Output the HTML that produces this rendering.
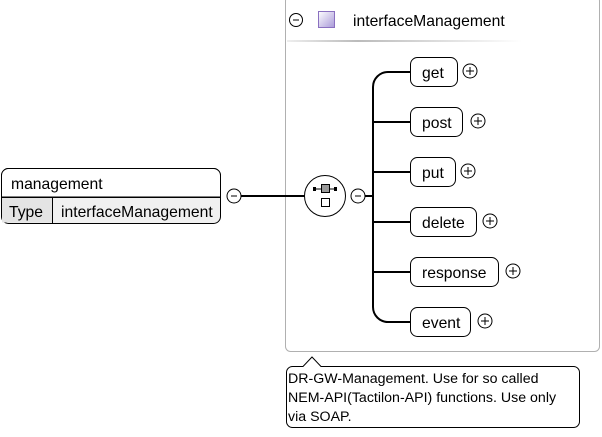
<!DOCTYPE html>
<html><head><style>
body{margin:0;background:#fff;}
svg text{font-family:"Liberation Sans",Arial,sans-serif;}
</style></head><body>
<svg width="602" height="432" viewBox="0 0 602 432" xmlns="http://www.w3.org/2000/svg">
<defs>
<linearGradient id="pg" x1="0" y1="0" x2="1" y2="1"><stop offset="0" stop-color="#fff"/><stop offset="1" stop-color="#a898d8"/></linearGradient>
<linearGradient id="hl" x1="0" x2="1"><stop offset="0" stop-color="#eee"/><stop offset="0.3" stop-color="#bbb"/><stop offset="1" stop-color="#fff"/></linearGradient>
</defs>
<rect x="285.5" y="-4" width="314" height="355.5" rx="5" fill="#fff" stroke="#b0b0b0" stroke-width="1"/>
<circle cx="296" cy="20" r="6.5" fill="#fff" stroke="#000"/><line x1="293" y1="20" x2="299" y2="20" stroke="#000"/>
<rect x="318.5" y="11.5" width="16" height="16" fill="url(#pg)" stroke="#8a70c0"/>
<text x="353" y="26" font-size="15.7">interfaceManagement</text>
<rect x="287" y="40" width="235" height="2" fill="url(#hl)"/>
<!-- management -->
<rect x="1.5" y="168.5" width="219" height="55" rx="7" fill="#f0f0f0" stroke="#000"/>
<path d="M1.5 197 V175.5 a7 7 0 0 1 7 -7 H213.5 a7 7 0 0 1 7 7 V197 Z" fill="#fff" stroke="#000"/>
<rect x="2" y="197.5" width="50" height="25" fill="#e4e4e4"/>
<line x1="52.5" y1="197" x2="52.5" y2="223" stroke="#000"/>
<line x1="1.5" y1="197.5" x2="220.5" y2="197.5" stroke="#000"/>
<text x="11" y="189" font-size="15.7">management</text>
<text x="9" y="217" font-size="15.7">Type</text>
<text x="61" y="217" font-size="15.7">interfaceManagement</text>
<circle cx="234" cy="196" r="7" fill="#fff" stroke="#000"/><line x1="231" y1="196" x2="237" y2="196" stroke="#000"/>
<line x1="241" y1="196" x2="305" y2="196" stroke="#000" stroke-width="2"/>
<circle cx="325" cy="196" r="20.5" fill="#fff" stroke="#000"/>
<line x1="314" y1="189" x2="336" y2="189" stroke="#000"/>
<rect x="313" y="187" width="3" height="4" fill="#000"/><rect x="334" y="187" width="3" height="4" fill="#000"/>
<rect x="321.5" y="184.5" width="8" height="8" fill="#999" stroke="#000"/>
<rect x="321.5" y="198.5" width="8" height="8" fill="#fff" stroke="#000"/>
<circle cx="358" cy="196" r="7" fill="#fff" stroke="#000"/><line x1="355" y1="196" x2="361" y2="196" stroke="#000"/>
<line x1="365" y1="196" x2="373" y2="196" stroke="#000" stroke-width="2"/>
<path d="M410 72 H388 a15 15 0 0 0 -15 15 V307 a15 15 0 0 0 15 15 H410" fill="none" stroke="#000" stroke-width="2"/>
<g stroke="#000" stroke-width="2">
<line x1="373" y1="122" x2="410" y2="122"/><line x1="373" y1="172" x2="410" y2="172"/>
<line x1="373" y1="222" x2="410" y2="222"/><line x1="373" y1="272" x2="410" y2="272"/>
</g>
<g font-size="15.7" fill="#000">
<rect x="410.5" y="57.5" width="47" height="29" rx="7" fill="#fff" stroke="#000"/><text x="422" y="78">get</text>
<rect x="410.5" y="107.5" width="52" height="29" rx="7" fill="#fff" stroke="#000"/><text x="422" y="128">post</text>
<rect x="410.5" y="157.5" width="45" height="29" rx="7" fill="#fff" stroke="#000"/><text x="422" y="178">put</text>
<rect x="410.5" y="207.5" width="66" height="29" rx="7" fill="#fff" stroke="#000"/><text x="422" y="228">delete</text>
<rect x="410.5" y="257.5" width="88" height="29" rx="7" fill="#fff" stroke="#000"/><text x="422" y="278">response</text>
<rect x="410.5" y="307.5" width="60" height="29" rx="7" fill="#fff" stroke="#000"/><text x="422" y="328">event</text>
</g>
<g fill="#fff" stroke="#000">
<circle cx="470" cy="71" r="7"/><circle cx="478" cy="121" r="7"/><circle cx="468" cy="171" r="7"/>
<circle cx="490" cy="221" r="7"/><circle cx="513" cy="271" r="7"/><circle cx="485" cy="321" r="7"/>
</g>
<g stroke="#000">
<path d="M466 71h8M470 67v8"/><path d="M474 121h8M478 117v8"/><path d="M464 171h8M468 167v8"/>
<path d="M486 221h8M490 217v8"/><path d="M509 271h8M513 267v8"/><path d="M481 321h8M485 317v8"/>
</g>
<!-- tooltip -->
<path d="M292.5 366.5 H303 L312 357 L321 366.5 H573.5 a6 6 0 0 1 6 6 V421.5 a6 6 0 0 1 -6 6 H292.5 a6 6 0 0 1 -6 -6 V372.5 a6 6 0 0 1 6 -6 Z" fill="#fff" stroke="#000"/>
<g font-size="14.2"><text x="288" y="383">DR-GW-Management. Use for so called</text>
<text x="288" y="402">NEM-API(Tactilon-API) functions. Use only</text>
<text x="288" y="421">via SOAP.</text></g>
</svg>
</body></html>
